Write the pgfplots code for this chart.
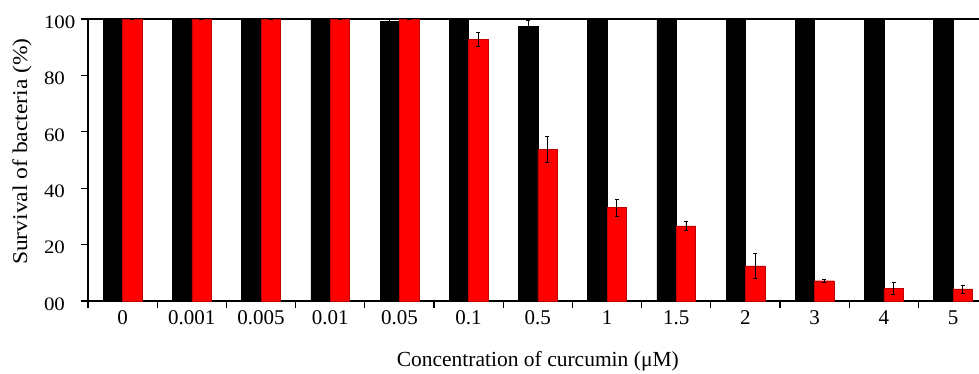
\documentclass[border=0pt]{standalone}
\usepackage{fontspec}
\setmainfont{Liberation Serif}
\usepackage{pgfplots}
\pgfplotsset{compat=1.18}
\begin{document}
\begin{tikzpicture}
\begin{axis}[
  scale only axis,
  width=899.6pt, height=282pt,
  xmin=-0.5, xmax=12.5, ymin=0, ymax=100,
  ybar=0pt, bar width=0.28,
  axis line style={line width=1.2pt},
  xtick={-0.5,0.5,...,11.5},
  xticklabels={,,,,,,,,,,,,,},
  extra x ticks={0,...,12},
  extra x tick labels={0,0.001,0.005,0.01,0.05,0.1,0.5,1,1.5,2,3,4,5},
  extra x tick style={major tick length=0pt, xticklabel style={font=\fontsize{21}{24}\selectfont, anchor=base, yshift=-23.5pt}},
  ytick={0,20,...,100},
  yticklabels={00,20,40,60,80,100},
  xtick pos=bottom, ytick pos=left,
  tick align=outside,
  major tick length=6.5pt,
  tick style={line width=1.2pt, black},
  yticklabel style={font=\fontsize{19}{22}\selectfont\addfontfeatures{FakeStretch=1.1}, anchor=west, xshift=-41pt, yshift=-3pt},
  xlabel={Concentration of curcumin (μM)},
  ylabel={Survival of bacteria (\%)},
  xlabel style={font=\fontsize{21.5}{24}\selectfont, at={(axis description cs:0.5,0)}, anchor=base, yshift=-65.7pt},
  ylabel style={font=\fontsize{21}{24}\selectfont\addfontfeatures{FakeStretch=1.12}, at={(axis description cs:0,0.53)}, anchor=center, yshift=66pt},
]
\addplot[fill=black, draw=black,
  error bars/.cd, y dir=both, y explicit,
  error bar style={black, line width=0.6pt},
  error mark options={rotate=90, mark size=2pt, black, line width=0.6pt}] coordinates {
  (0,100) +- (0,0)
  (1,100) +- (0,0)
  (2,100) +- (0,0)
  (3,100) +- (0,0)
  (4,99.2) +- (0,0.7)
  (5,100) +- (0,0)
  (6,97.5) +- (0,2.2)
  (7,100) +- (0,0)
  (8,100) +- (0,0)
  (9,100) +- (0,0)
  (10,100) +- (0,0)
  (11,100) +- (0,0)
  (12,100) +- (0,0)
};
\addplot[fill=red, draw=red!75!black, line width=0.4pt,
  error bars/.cd, y dir=both, y explicit,
  error bar style={black, line width=0.6pt},
  error mark options={rotate=90, mark size=2pt, black, line width=0.6pt}] coordinates {
  (0,100) +- (0,0)
  (1,100) +- (0,0)
  (2,100) +- (0,0)
  (3,100) +- (0,0)
  (4,100) +- (0,0)
  (5,92.8) +- (0,2.4)
  (6,53.7) +- (0,4.6)
  (7,33.1) +- (0,3.0)
  (8,26.6) +- (0,1.7)
  (9,12.5) +- (0,4.4)
  (10,7.2) +- (0,0.5)
  (11,4.5) +- (0,2.0)
  (12,4.3) +- (0,1.4)
};
\coordinate (bl) at (rel axis cs:0,0);
\end{axis}
\pgfresetboundingbox
\path[use as bounding box] (bl) ++(-88pt,-72pt) rectangle ++(979pt,373pt);
\end{tikzpicture}
\end{document}
